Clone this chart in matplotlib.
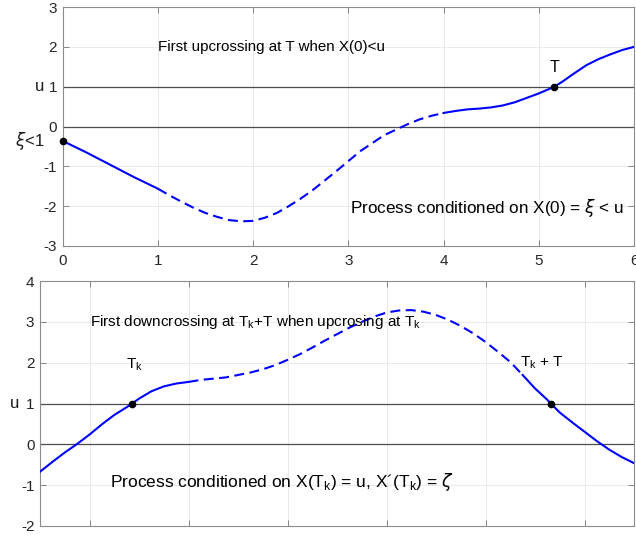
import numpy as np
import matplotlib
matplotlib.use("Agg")
import matplotlib.pyplot as plt
import matplotlib.transforms as mtransforms

plt.rcParams['font.family'] = ['Liberation Sans', 'DejaVu Sans']
plt.rcParams['mathtext.fontset'] = 'dejavusans'
plt.rcParams['axes.unicode_minus'] = False

# top panel: process conditioned on X(0) = xi < u
top_x = np.array([0, 0.25, 0.5, 0.75, 1.0, 1.125, 1.25, 1.375, 1.5, 1.625, 1.75, 1.875, 2.0,
                  2.125, 2.25, 2.375, 2.5, 2.625, 2.75, 2.875, 3.0, 3.125, 3.25, 3.375, 3.5,
                  3.625, 3.75, 3.875, 4.0, 4.125, 4.25, 4.375, 4.5, 4.625, 4.75, 4.875, 5.0,
                  5.164, 5.25, 5.375, 5.5, 5.625, 5.75, 5.875, 6.0])
top_y = np.array([-0.36, -0.65, -0.96, -1.27, -1.56, -1.73, -1.89, -2.04, -2.17, -2.27, -2.35, -2.38, -2.37,
                  -2.29, -2.17, -2.0, -1.81, -1.6, -1.36, -1.12, -0.87, -0.62, -0.42, -0.22, -0.08,
                  0.06, 0.18, 0.27, 0.34, 0.39, 0.43, 0.45, 0.48, 0.53, 0.61, 0.72, 0.83,
                  1.0, 1.13, 1.34, 1.54, 1.69, 1.81, 1.92, 2.0])
top_dash = (1.0, 4.0)
top_pts_x = [0, 5.164]
top_pts_y = [-0.36, 1.0]

# bottom panel: process conditioned on X(Tk) = u, X'(Tk) = zeta
bot_x = np.array([-0.5, -0.375, -0.25, -0.125, 0, 0.125, 0.25, 0.375, 0.43, 0.5, 0.625, 0.75, 0.875,
                  1.0, 1.125, 1.25, 1.375, 1.5, 1.625, 1.75, 1.875, 2.0, 2.125, 2.25, 2.375, 2.5,
                  2.625, 2.75, 2.875, 3.0, 3.125, 3.25, 3.375, 3.5, 3.625, 3.75, 3.875, 4.0,
                  4.125, 4.25, 4.375, 4.5, 4.625, 4.66, 4.75, 4.875, 5.0, 5.125, 5.25, 5.375, 5.5])
bot_y = np.array([-0.67, -0.43, -0.2, 0.01, 0.24, 0.49, 0.72, 0.91, 1.0, 1.12, 1.3, 1.42, 1.49,
                  1.53, 1.58, 1.61, 1.64, 1.70, 1.76, 1.84, 1.94, 2.07, 2.21, 2.37, 2.54, 2.70,
                  2.86, 3.0, 3.13, 3.23, 3.28, 3.29, 3.25, 3.17, 3.05, 2.90, 2.72, 2.51,
                  2.27, 2.02, 1.70, 1.37, 1.09, 1.0, 0.78, 0.54, 0.31, 0.08, -0.13, -0.31, -0.46])
bot_dash = (1.0, 4.375)
bot_pts_x = [0.43, 4.66]
bot_pts_y = [1.0, 1.0]

u = 1.0
blue = (0, 0, 1)
lw = 1.5
dash = (0, (4.8, 2.6))


def style(ax):
    ax.set_axisbelow(True)
    ax.grid(True, color='0.9', lw=0.6)
    ax.tick_params(direction='in', top=True, right=True, length=4, width=0.6,
                   color='0.45', labelcolor='0.15', labelsize=11, pad=4)
    ax.tick_params(axis='x', pad=6)
    for s in ax.spines.values():
        s.set_color('0.55')
        s.set_linewidth(0.8)
    ax.axhline(0, color='0.3', lw=0.9, zorder=1)
    ax.axhline(u, color='0.3', lw=0.9, zorder=1)


def draw_curve(ax, x, y, d):
    a, b = d
    m1 = x <= a
    m2 = (x >= a) & (x <= b)
    m3 = x >= b
    ax.plot(x[m1], y[m1], color=blue, lw=lw, zorder=3)
    ax.plot(x[m2], y[m2], color=blue, lw=lw, ls=dash, zorder=3)
    ax.plot(x[m3], y[m3], color=blue, lw=lw, zorder=3)


fig = plt.figure(figsize=(6.36, 5.37), dpi=100)

ax1 = fig.add_axes([0.0983, 0.5419, 0.8986, 0.445])
style(ax1)
draw_curve(ax1, top_x, top_y, top_dash)
ax1.plot(top_pts_x, top_pts_y, 'o', color='k', ms=4.5, zorder=4, clip_on=False)
ax1.set_xlim(0, 6)
ax1.set_ylim(-3, 3)
ax1.set_xticks(range(0, 7))
ax1.set_yticks(range(-3, 4))
tr1 = mtransforms.blended_transform_factory(ax1.transAxes, ax1.transData)
ax1.text(-0.041, u, 'u', transform=tr1, ha='center', va='center', fontsize=12, color='0.1')
ax1.text(-0.057, -0.36, r'$\xi$<1', transform=tr1, ha='center', va='center', fontsize=12, color='0.1')
ax1.text(1.0, 2.0, 'First upcrossing at T when X(0)<u', fontsize=10.9, va='center', ha='left')
ax1.text(5.164, 1.3, 'T', fontsize=11.5, ha='center', va='bottom')
ax1.text(3.02, -2.05, r'Process conditioned on X(0) = $\xi$ < u', fontsize=12.3, va='center', ha='left')

ax2 = fig.add_axes([0.0629, 0.0205, 0.934, 0.456])
style(ax2)
draw_curve(ax2, bot_x, bot_y, bot_dash)
ax2.plot(bot_pts_x, bot_pts_y, 'o', color='k', ms=4.5, zorder=4)
ax2.set_xlim(-0.5, 5.5)
ax2.set_ylim(-2, 4)
ax2.set_xticks(range(0, 6))
ax2.set_xticklabels([])
ax2.set_yticks(range(-2, 5))
tr2 = mtransforms.blended_transform_factory(ax2.transAxes, ax2.transData)
ax2.text(-0.042, u, 'u', transform=tr2, ha='center', va='center', fontsize=12, color='0.1')
ax2.text(0.01, 3.0, r'First downcrossing at T$_\mathregular{k}$+T when upcrosing at T$_\mathregular{k}$',
         fontsize=11, va='center', ha='left')
ax2.text(0.45, 1.95, r'T$_\mathregular{k}$', fontsize=11, ha='center', va='center')
ax2.text(4.35, 2.0, r'T$_\mathregular{k}$ + T', fontsize=11, ha='left', va='center')
ax2.text(0.21, -0.93, r'Process conditioned on X(T$_\mathregular{k}$) = u, X´(T$_\mathregular{k}$) = $\zeta$',
         fontsize=12.5, va='center', ha='left')

fig.savefig('out.png', dpi=100)
